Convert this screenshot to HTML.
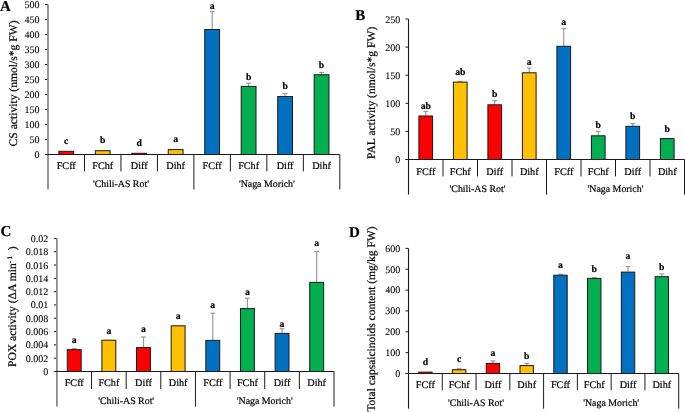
<!DOCTYPE html><html><head><meta charset="utf-8"><style>html,body{margin:0;padding:0;background:#fff;width:685px;height:412px;overflow:hidden}svg{display:block;text-rendering:geometricPrecision;will-change:transform}text{font-family:"Liberation Serif",serif;fill:#000;stroke:#000;stroke-width:0.2px}text.tk{stroke-width:0.08px}</style></head><body>
<svg width="685" height="412" viewBox="0 0 685 412">
<g><text x="0.1" y="10.8" font-size="15" font-weight="bold">A</text><text x="39.4" y="158.0" font-size="10" text-anchor="end" class="tk">0</text><line x1="45.0" y1="154.50" x2="48.0" y2="154.50" stroke="#1a1a1a" stroke-width="1"/><text x="39.4" y="143.0" font-size="10" text-anchor="end" class="tk">50</text><line x1="45.0" y1="139.50" x2="48.0" y2="139.50" stroke="#1a1a1a" stroke-width="1"/><text x="39.4" y="128.0" font-size="10" text-anchor="end" class="tk">100</text><line x1="45.0" y1="124.50" x2="48.0" y2="124.50" stroke="#1a1a1a" stroke-width="1"/><text x="39.4" y="113.0" font-size="10" text-anchor="end" class="tk">150</text><line x1="45.0" y1="109.50" x2="48.0" y2="109.50" stroke="#1a1a1a" stroke-width="1"/><text x="39.4" y="98.0" font-size="10" text-anchor="end" class="tk">200</text><line x1="45.0" y1="94.50" x2="48.0" y2="94.50" stroke="#1a1a1a" stroke-width="1"/><text x="39.4" y="83.0" font-size="10" text-anchor="end" class="tk">250</text><line x1="45.0" y1="79.50" x2="48.0" y2="79.50" stroke="#1a1a1a" stroke-width="1"/><text x="39.4" y="68.0" font-size="10" text-anchor="end" class="tk">300</text><line x1="45.0" y1="64.50" x2="48.0" y2="64.50" stroke="#1a1a1a" stroke-width="1"/><text x="39.4" y="53.0" font-size="10" text-anchor="end" class="tk">350</text><line x1="45.0" y1="49.50" x2="48.0" y2="49.50" stroke="#1a1a1a" stroke-width="1"/><text x="39.4" y="38.0" font-size="10" text-anchor="end" class="tk">400</text><line x1="45.0" y1="34.50" x2="48.0" y2="34.50" stroke="#1a1a1a" stroke-width="1"/><text x="39.4" y="23.0" font-size="10" text-anchor="end" class="tk">450</text><line x1="45.0" y1="19.50" x2="48.0" y2="19.50" stroke="#1a1a1a" stroke-width="1"/><text x="39.4" y="8.0" font-size="10" text-anchor="end" class="tk">500</text><line x1="45.0" y1="4.50" x2="48.0" y2="4.50" stroke="#1a1a1a" stroke-width="1"/><rect x="58.84" y="151.30" width="14.80" height="3.20" fill="#FF0000" stroke="#1a1a1a" stroke-width="1"/><text x="66.24" y="143.60" font-size="9.7" font-weight="bold" text-anchor="middle">c</text><text x="66.24" y="168.80" font-size="10.2" text-anchor="middle">FCff</text><rect x="95.31" y="150.70" width="14.80" height="3.80" fill="#FFC000" stroke="#1a1a1a" stroke-width="1"/><text x="102.71" y="143.30" font-size="9.7" font-weight="bold" text-anchor="middle">b</text><text x="102.71" y="168.80" font-size="10.2" text-anchor="middle">FChf</text><rect x="131.79" y="153.30" width="14.80" height="1.20" fill="#FF0000" stroke="#5a0000" stroke-width="1"/><text x="139.19" y="146.20" font-size="9.7" font-weight="bold" text-anchor="middle">d</text><text x="139.19" y="168.80" font-size="10.2" text-anchor="middle">Diff</text><rect x="168.26" y="149.60" width="14.80" height="4.90" fill="#FFC000" stroke="#1a1a1a" stroke-width="1"/><text x="175.66" y="142.10" font-size="9.7" font-weight="bold" text-anchor="middle">a</text><text x="175.66" y="168.80" font-size="10.2" text-anchor="middle">Dihf</text><line x1="212.14" y1="29.00" x2="212.14" y2="11.50" stroke="#999" stroke-width="1.2"/><line x1="209.74" y1="11.50" x2="214.54" y2="11.50" stroke="#999" stroke-width="1.2"/><rect x="204.74" y="29.50" width="14.80" height="125.00" fill="#0070C0" stroke="#1a1a1a" stroke-width="1"/><text x="212.14" y="8.80" font-size="9.7" font-weight="bold" text-anchor="middle">a</text><text x="212.14" y="168.80" font-size="10.2" text-anchor="middle">FCff</text><line x1="248.61" y1="85.90" x2="248.61" y2="83.20" stroke="#999" stroke-width="1.2"/><line x1="246.21" y1="83.20" x2="251.01" y2="83.20" stroke="#999" stroke-width="1.2"/><rect x="241.21" y="86.40" width="14.80" height="68.10" fill="#00B050" stroke="#1a1a1a" stroke-width="1"/><text x="248.61" y="79.80" font-size="9.7" font-weight="bold" text-anchor="middle">b</text><text x="248.61" y="168.80" font-size="10.2" text-anchor="middle">FChf</text><line x1="285.09" y1="96.00" x2="285.09" y2="93.60" stroke="#999" stroke-width="1.2"/><line x1="282.69" y1="93.60" x2="287.49" y2="93.60" stroke="#999" stroke-width="1.2"/><rect x="277.69" y="96.50" width="14.80" height="58.00" fill="#0070C0" stroke="#1a1a1a" stroke-width="1"/><text x="285.09" y="89.40" font-size="9.7" font-weight="bold" text-anchor="middle">b</text><text x="285.09" y="168.80" font-size="10.2" text-anchor="middle">Diff</text><line x1="321.56" y1="74.25" x2="321.56" y2="72.50" stroke="#999" stroke-width="1.2"/><line x1="319.16" y1="72.50" x2="323.96" y2="72.50" stroke="#999" stroke-width="1.2"/><rect x="314.16" y="74.75" width="14.80" height="79.75" fill="#00B050" stroke="#1a1a1a" stroke-width="1"/><text x="321.56" y="67.80" font-size="9.7" font-weight="bold" text-anchor="middle">b</text><text x="321.56" y="168.80" font-size="10.2" text-anchor="middle">Dihf</text><line x1="48.00" y1="4.50" x2="48.00" y2="189.60" stroke="#8c8c8c" stroke-width="1.8"/><line x1="45.00" y1="154.50" x2="339.80" y2="154.50" stroke="#1a1a1a" stroke-width="1.1"/><line x1="84.47" y1="154.50" x2="84.47" y2="171.40" stroke="#1a1a1a" stroke-width="1"/><line x1="120.95" y1="154.50" x2="120.95" y2="171.40" stroke="#1a1a1a" stroke-width="1"/><line x1="157.43" y1="154.50" x2="157.43" y2="171.40" stroke="#1a1a1a" stroke-width="1"/><line x1="193.90" y1="154.50" x2="193.90" y2="189.60" stroke="#1a1a1a" stroke-width="1"/><line x1="230.38" y1="154.50" x2="230.38" y2="171.40" stroke="#1a1a1a" stroke-width="1"/><line x1="266.85" y1="154.50" x2="266.85" y2="171.40" stroke="#1a1a1a" stroke-width="1"/><line x1="303.33" y1="154.50" x2="303.33" y2="171.40" stroke="#1a1a1a" stroke-width="1"/><line x1="339.80" y1="154.50" x2="339.80" y2="189.60" stroke="#1a1a1a" stroke-width="1"/><text x="120.95" y="187.20" font-size="9.9" text-anchor="middle">'Chili-AS Rot'</text><text x="266.85" y="187.20" font-size="9.9" text-anchor="middle">'Naga Morich'</text><text transform="translate(17.0,146.4) rotate(-90)" font-size="11.6">CS activity (nmol/s*g FW)</text></g>
<g><text x="355.2" y="20.1" font-size="15" font-weight="bold">B</text><text x="400.2" y="163.0" font-size="10" text-anchor="end" class="tk">0</text><line x1="405.5" y1="159.50" x2="408.5" y2="159.50" stroke="#1a1a1a" stroke-width="1"/><text x="400.2" y="135.0" font-size="10" text-anchor="end" class="tk">50</text><line x1="405.5" y1="131.40" x2="408.5" y2="131.40" stroke="#1a1a1a" stroke-width="1"/><text x="400.2" y="107.0" font-size="10" text-anchor="end" class="tk">100</text><line x1="405.5" y1="103.30" x2="408.5" y2="103.30" stroke="#1a1a1a" stroke-width="1"/><text x="400.2" y="79.0" font-size="10" text-anchor="end" class="tk">150</text><line x1="405.5" y1="75.20" x2="408.5" y2="75.20" stroke="#1a1a1a" stroke-width="1"/><text x="400.2" y="51.0" font-size="10" text-anchor="end" class="tk">200</text><line x1="405.5" y1="47.10" x2="408.5" y2="47.10" stroke="#1a1a1a" stroke-width="1"/><text x="400.2" y="23.0" font-size="10" text-anchor="end" class="tk">250</text><line x1="405.5" y1="19.00" x2="408.5" y2="19.00" stroke="#1a1a1a" stroke-width="1"/><line x1="425.75" y1="115.70" x2="425.75" y2="111.40" stroke="#999" stroke-width="1.2"/><line x1="423.35" y1="111.40" x2="428.15" y2="111.40" stroke="#999" stroke-width="1.2"/><rect x="418.90" y="116.00" width="13.70" height="43.50" fill="#FF0000" stroke="#1a1a1a" stroke-width="1"/><text x="425.75" y="108.80" font-size="9.7" font-weight="bold" text-anchor="middle">ab</text><text x="425.75" y="174.50" font-size="10.2" text-anchor="middle">FCff</text><line x1="460.25" y1="81.80" x2="460.25" y2="81.40" stroke="#999" stroke-width="1.2"/><line x1="457.85" y1="81.40" x2="462.65" y2="81.40" stroke="#999" stroke-width="1.2"/><rect x="453.40" y="82.10" width="13.70" height="77.40" fill="#FFC000" stroke="#1a1a1a" stroke-width="1"/><text x="460.25" y="75.00" font-size="9.7" font-weight="bold" text-anchor="middle">ab</text><text x="460.25" y="174.50" font-size="10.2" text-anchor="middle">FChf</text><line x1="494.75" y1="104.50" x2="494.75" y2="100.50" stroke="#999" stroke-width="1.2"/><line x1="492.35" y1="100.50" x2="497.15" y2="100.50" stroke="#999" stroke-width="1.2"/><rect x="487.90" y="104.80" width="13.70" height="54.70" fill="#FF0000" stroke="#1a1a1a" stroke-width="1"/><text x="494.75" y="97.30" font-size="9.7" font-weight="bold" text-anchor="middle">b</text><text x="494.75" y="174.50" font-size="10.2" text-anchor="middle">Diff</text><line x1="529.25" y1="72.50" x2="529.25" y2="68.00" stroke="#999" stroke-width="1.2"/><line x1="526.85" y1="68.00" x2="531.65" y2="68.00" stroke="#999" stroke-width="1.2"/><rect x="522.40" y="72.80" width="13.70" height="86.70" fill="#FFC000" stroke="#1a1a1a" stroke-width="1"/><text x="529.25" y="65.30" font-size="9.7" font-weight="bold" text-anchor="middle">a</text><text x="529.25" y="174.50" font-size="10.2" text-anchor="middle">Dihf</text><line x1="563.75" y1="46.00" x2="563.75" y2="28.60" stroke="#999" stroke-width="1.2"/><line x1="561.35" y1="28.60" x2="566.15" y2="28.60" stroke="#999" stroke-width="1.2"/><rect x="556.90" y="46.30" width="13.70" height="113.20" fill="#0070C0" stroke="#1a1a1a" stroke-width="1"/><text x="563.75" y="25.30" font-size="9.7" font-weight="bold" text-anchor="middle">a</text><text x="563.75" y="174.50" font-size="10.2" text-anchor="middle">FCff</text><line x1="598.25" y1="135.50" x2="598.25" y2="131.50" stroke="#999" stroke-width="1.2"/><line x1="595.85" y1="131.50" x2="600.65" y2="131.50" stroke="#999" stroke-width="1.2"/><rect x="591.40" y="135.80" width="13.70" height="23.70" fill="#00B050" stroke="#1a1a1a" stroke-width="1"/><text x="598.25" y="128.40" font-size="9.7" font-weight="bold" text-anchor="middle">b</text><text x="598.25" y="174.50" font-size="10.2" text-anchor="middle">FChf</text><line x1="632.75" y1="126.00" x2="632.75" y2="123.60" stroke="#999" stroke-width="1.2"/><line x1="630.35" y1="123.60" x2="635.15" y2="123.60" stroke="#999" stroke-width="1.2"/><rect x="625.90" y="126.30" width="13.70" height="33.20" fill="#0070C0" stroke="#1a1a1a" stroke-width="1"/><text x="632.75" y="119.20" font-size="9.7" font-weight="bold" text-anchor="middle">b</text><text x="632.75" y="174.50" font-size="10.2" text-anchor="middle">Diff</text><rect x="660.40" y="138.60" width="13.70" height="20.90" fill="#00B050" stroke="#1a1a1a" stroke-width="1"/><text x="667.25" y="131.50" font-size="9.7" font-weight="bold" text-anchor="middle">b</text><text x="667.25" y="174.50" font-size="10.2" text-anchor="middle">Dihf</text><line x1="408.50" y1="19.00" x2="408.50" y2="194.60" stroke="#1a1a1a" stroke-width="1.1"/><line x1="405.50" y1="159.50" x2="684.50" y2="159.50" stroke="#1a1a1a" stroke-width="1.1"/><line x1="443.00" y1="159.50" x2="443.00" y2="176.40" stroke="#1a1a1a" stroke-width="1"/><line x1="477.50" y1="159.50" x2="477.50" y2="176.40" stroke="#1a1a1a" stroke-width="1"/><line x1="512.00" y1="159.50" x2="512.00" y2="176.40" stroke="#1a1a1a" stroke-width="1"/><line x1="546.50" y1="159.50" x2="546.50" y2="194.60" stroke="#1a1a1a" stroke-width="1"/><line x1="581.00" y1="159.50" x2="581.00" y2="176.40" stroke="#1a1a1a" stroke-width="1"/><line x1="615.50" y1="159.50" x2="615.50" y2="176.40" stroke="#1a1a1a" stroke-width="1"/><line x1="650.00" y1="159.50" x2="650.00" y2="176.40" stroke="#1a1a1a" stroke-width="1"/><line x1="684.50" y1="159.50" x2="684.50" y2="194.60" stroke="#1a1a1a" stroke-width="1"/><text x="477.50" y="192.10" font-size="9.9" text-anchor="middle">'Chili-AS Rot'</text><text x="615.50" y="192.10" font-size="9.9" text-anchor="middle">'Naga Morich'</text><text transform="translate(375.2,158.9) rotate(-90)" font-size="11.6">PAL activity (nmol/s*g FW)</text></g>
<g><text x="0.4" y="236.3" font-size="15" font-weight="bold">C</text><text x="48.3" y="375.0" font-size="10" text-anchor="end" class="tk">0</text><line x1="53.9" y1="371.50" x2="56.9" y2="371.50" stroke="#1a1a1a" stroke-width="1"/><text x="48.3" y="362.0" font-size="10" text-anchor="end" class="tk">0.002</text><line x1="53.9" y1="358.19" x2="56.9" y2="358.19" stroke="#1a1a1a" stroke-width="1"/><text x="48.3" y="348.0" font-size="10" text-anchor="end" class="tk">0.004</text><line x1="53.9" y1="344.88" x2="56.9" y2="344.88" stroke="#1a1a1a" stroke-width="1"/><text x="48.3" y="335.0" font-size="10" text-anchor="end" class="tk">0.006</text><line x1="53.9" y1="331.57" x2="56.9" y2="331.57" stroke="#1a1a1a" stroke-width="1"/><text x="48.3" y="322.0" font-size="10" text-anchor="end" class="tk">0.008</text><line x1="53.9" y1="318.26" x2="56.9" y2="318.26" stroke="#1a1a1a" stroke-width="1"/><text x="48.3" y="308.0" font-size="10" text-anchor="end" class="tk">0.01</text><line x1="53.9" y1="304.95" x2="56.9" y2="304.95" stroke="#1a1a1a" stroke-width="1"/><text x="48.3" y="295.0" font-size="10" text-anchor="end" class="tk">0.012</text><line x1="53.9" y1="291.64" x2="56.9" y2="291.64" stroke="#1a1a1a" stroke-width="1"/><text x="48.3" y="282.0" font-size="10" text-anchor="end" class="tk">0.014</text><line x1="53.9" y1="278.33" x2="56.9" y2="278.33" stroke="#1a1a1a" stroke-width="1"/><text x="48.3" y="269.0" font-size="10" text-anchor="end" class="tk">0.016</text><line x1="53.9" y1="265.02" x2="56.9" y2="265.02" stroke="#1a1a1a" stroke-width="1"/><text x="48.3" y="255.0" font-size="10" text-anchor="end" class="tk">0.018</text><line x1="53.9" y1="251.71" x2="56.9" y2="251.71" stroke="#1a1a1a" stroke-width="1"/><text x="48.3" y="242.0" font-size="10" text-anchor="end" class="tk">0.02</text><line x1="53.9" y1="238.40" x2="56.9" y2="238.40" stroke="#1a1a1a" stroke-width="1"/><line x1="74.22" y1="349.60" x2="74.22" y2="348.50" stroke="#999" stroke-width="1.2"/><line x1="71.82" y1="348.50" x2="76.62" y2="348.50" stroke="#999" stroke-width="1.2"/><rect x="67.27" y="349.60" width="13.90" height="21.90" fill="#FF0000" stroke="#1a1a1a" stroke-width="1"/><text x="74.22" y="342.70" font-size="9.7" font-weight="bold" text-anchor="middle">a</text><text x="74.22" y="386.20" font-size="10.2" text-anchor="middle">FCff</text><rect x="101.91" y="340.20" width="13.90" height="31.30" fill="#FFC000" stroke="#1a1a1a" stroke-width="1"/><text x="108.86" y="333.60" font-size="9.7" font-weight="bold" text-anchor="middle">a</text><text x="108.86" y="386.20" font-size="10.2" text-anchor="middle">FChf</text><line x1="143.49" y1="347.60" x2="143.49" y2="337.00" stroke="#999" stroke-width="1.2"/><line x1="141.09" y1="337.00" x2="145.89" y2="337.00" stroke="#999" stroke-width="1.2"/><rect x="136.54" y="347.60" width="13.90" height="23.90" fill="#FF0000" stroke="#1a1a1a" stroke-width="1"/><text x="143.49" y="331.70" font-size="9.7" font-weight="bold" text-anchor="middle">a</text><text x="143.49" y="386.20" font-size="10.2" text-anchor="middle">Diff</text><rect x="171.18" y="325.80" width="13.90" height="45.70" fill="#FFC000" stroke="#1a1a1a" stroke-width="1"/><text x="178.13" y="319.00" font-size="9.7" font-weight="bold" text-anchor="middle">a</text><text x="178.13" y="386.20" font-size="10.2" text-anchor="middle">Dihf</text><line x1="212.77" y1="340.40" x2="212.77" y2="313.30" stroke="#999" stroke-width="1.2"/><line x1="210.37" y1="313.30" x2="215.17" y2="313.30" stroke="#999" stroke-width="1.2"/><rect x="205.82" y="340.40" width="13.90" height="31.10" fill="#0070C0" stroke="#1a1a1a" stroke-width="1"/><text x="212.77" y="307.50" font-size="9.7" font-weight="bold" text-anchor="middle">a</text><text x="212.77" y="386.20" font-size="10.2" text-anchor="middle">FCff</text><line x1="247.41" y1="308.60" x2="247.41" y2="298.20" stroke="#999" stroke-width="1.2"/><line x1="245.01" y1="298.20" x2="249.81" y2="298.20" stroke="#999" stroke-width="1.2"/><rect x="240.46" y="308.60" width="13.90" height="62.90" fill="#00B050" stroke="#1a1a1a" stroke-width="1"/><text x="247.41" y="295.40" font-size="9.7" font-weight="bold" text-anchor="middle">a</text><text x="247.41" y="386.20" font-size="10.2" text-anchor="middle">FChf</text><line x1="282.04" y1="333.40" x2="282.04" y2="328.80" stroke="#999" stroke-width="1.2"/><line x1="279.64" y1="328.80" x2="284.44" y2="328.80" stroke="#999" stroke-width="1.2"/><rect x="275.09" y="333.40" width="13.90" height="38.10" fill="#0070C0" stroke="#1a1a1a" stroke-width="1"/><text x="282.04" y="326.90" font-size="9.7" font-weight="bold" text-anchor="middle">a</text><text x="282.04" y="386.20" font-size="10.2" text-anchor="middle">Diff</text><line x1="316.68" y1="282.40" x2="316.68" y2="251.40" stroke="#999" stroke-width="1.2"/><line x1="314.28" y1="251.40" x2="319.08" y2="251.40" stroke="#999" stroke-width="1.2"/><rect x="309.73" y="282.40" width="13.90" height="89.10" fill="#00B050" stroke="#1a1a1a" stroke-width="1"/><text x="316.68" y="245.90" font-size="9.7" font-weight="bold" text-anchor="middle">a</text><text x="316.68" y="386.20" font-size="10.2" text-anchor="middle">Dihf</text><line x1="56.90" y1="238.40" x2="56.90" y2="406.60" stroke="#8c8c8c" stroke-width="1.8"/><line x1="53.90" y1="371.50" x2="334.00" y2="371.50" stroke="#1a1a1a" stroke-width="1.1"/><line x1="91.54" y1="371.50" x2="91.54" y2="389.00" stroke="#1a1a1a" stroke-width="1"/><line x1="126.18" y1="371.50" x2="126.18" y2="389.00" stroke="#1a1a1a" stroke-width="1"/><line x1="160.81" y1="371.50" x2="160.81" y2="389.00" stroke="#1a1a1a" stroke-width="1"/><line x1="195.45" y1="371.50" x2="195.45" y2="406.60" stroke="#1a1a1a" stroke-width="1"/><line x1="230.09" y1="371.50" x2="230.09" y2="389.00" stroke="#1a1a1a" stroke-width="1"/><line x1="264.73" y1="371.50" x2="264.73" y2="389.00" stroke="#1a1a1a" stroke-width="1"/><line x1="299.36" y1="371.50" x2="299.36" y2="389.00" stroke="#1a1a1a" stroke-width="1"/><line x1="334.00" y1="371.50" x2="334.00" y2="406.60" stroke="#1a1a1a" stroke-width="1"/><text x="126.18" y="404.20" font-size="9.9" text-anchor="middle">'Chili-AS Rot'</text><text x="264.73" y="404.20" font-size="9.9" text-anchor="middle">'Naga Morich'</text><text transform="translate(16.3,367.0) rotate(-90)" font-size="11.6">POX activity (ΔA min<tspan font-size="7" dy="-4.5">-&#8201;1</tspan><tspan dy="4.5">&#160;&#160;)</tspan></text></g>
<g><text x="349.1" y="237.0" font-size="15" font-weight="bold">D</text><text x="400.2" y="377.0" font-size="10" text-anchor="end" class="tk">0</text><line x1="405.5" y1="373.50" x2="408.5" y2="373.50" stroke="#1a1a1a" stroke-width="1"/><text x="400.2" y="356.0" font-size="10" text-anchor="end" class="tk">100</text><line x1="405.5" y1="352.65" x2="408.5" y2="352.65" stroke="#1a1a1a" stroke-width="1"/><text x="400.2" y="335.0" font-size="10" text-anchor="end" class="tk">200</text><line x1="405.5" y1="331.80" x2="408.5" y2="331.80" stroke="#1a1a1a" stroke-width="1"/><text x="400.2" y="314.0" font-size="10" text-anchor="end" class="tk">300</text><line x1="405.5" y1="310.95" x2="408.5" y2="310.95" stroke="#1a1a1a" stroke-width="1"/><text x="400.2" y="293.0" font-size="10" text-anchor="end" class="tk">400</text><line x1="405.5" y1="290.10" x2="408.5" y2="290.10" stroke="#1a1a1a" stroke-width="1"/><text x="400.2" y="273.0" font-size="10" text-anchor="end" class="tk">500</text><line x1="405.5" y1="269.25" x2="408.5" y2="269.25" stroke="#1a1a1a" stroke-width="1"/><text x="400.2" y="252.0" font-size="10" text-anchor="end" class="tk">600</text><line x1="405.5" y1="248.40" x2="408.5" y2="248.40" stroke="#1a1a1a" stroke-width="1"/><rect x="418.69" y="372.10" width="13.40" height="1.40" fill="#FF0000" stroke="#5a0000" stroke-width="1"/><text x="425.39" y="364.50" font-size="9.7" font-weight="bold" text-anchor="middle">d</text><text x="425.39" y="388.10" font-size="10.2" text-anchor="middle">FCff</text><line x1="459.16" y1="369.40" x2="459.16" y2="368.80" stroke="#999" stroke-width="1.2"/><line x1="456.76" y1="368.80" x2="461.56" y2="368.80" stroke="#999" stroke-width="1.2"/><rect x="452.46" y="369.70" width="13.40" height="3.80" fill="#FFC000" stroke="#1a1a1a" stroke-width="1"/><text x="459.16" y="361.90" font-size="9.7" font-weight="bold" text-anchor="middle">c</text><text x="459.16" y="388.10" font-size="10.2" text-anchor="middle">FChf</text><line x1="492.94" y1="363.10" x2="492.94" y2="360.90" stroke="#999" stroke-width="1.2"/><line x1="490.54" y1="360.90" x2="495.34" y2="360.90" stroke="#999" stroke-width="1.2"/><rect x="486.24" y="363.40" width="13.40" height="10.10" fill="#FF0000" stroke="#1a1a1a" stroke-width="1"/><text x="492.94" y="356.20" font-size="9.7" font-weight="bold" text-anchor="middle">a</text><text x="492.94" y="388.10" font-size="10.2" text-anchor="middle">Diff</text><line x1="526.71" y1="365.30" x2="526.71" y2="363.40" stroke="#999" stroke-width="1.2"/><line x1="524.31" y1="363.40" x2="529.11" y2="363.40" stroke="#999" stroke-width="1.2"/><rect x="520.01" y="365.60" width="13.40" height="7.90" fill="#FFC000" stroke="#1a1a1a" stroke-width="1"/><text x="526.71" y="358.60" font-size="9.7" font-weight="bold" text-anchor="middle">b</text><text x="526.71" y="388.10" font-size="10.2" text-anchor="middle">Dihf</text><line x1="560.49" y1="274.90" x2="560.49" y2="274.30" stroke="#999" stroke-width="1.2"/><line x1="558.09" y1="274.30" x2="562.89" y2="274.30" stroke="#999" stroke-width="1.2"/><rect x="553.79" y="275.20" width="13.40" height="98.30" fill="#0070C0" stroke="#1a1a1a" stroke-width="1"/><text x="560.49" y="268.00" font-size="9.7" font-weight="bold" text-anchor="middle">a</text><text x="560.49" y="388.10" font-size="10.2" text-anchor="middle">FCff</text><line x1="594.26" y1="278.10" x2="594.26" y2="277.70" stroke="#999" stroke-width="1.2"/><line x1="591.86" y1="277.70" x2="596.66" y2="277.70" stroke="#999" stroke-width="1.2"/><rect x="587.56" y="278.40" width="13.40" height="95.10" fill="#00B050" stroke="#1a1a1a" stroke-width="1"/><text x="594.26" y="271.60" font-size="9.7" font-weight="bold" text-anchor="middle">b</text><text x="594.26" y="388.10" font-size="10.2" text-anchor="middle">FChf</text><line x1="628.04" y1="271.80" x2="628.04" y2="266.50" stroke="#999" stroke-width="1.2"/><line x1="625.64" y1="266.50" x2="630.44" y2="266.50" stroke="#999" stroke-width="1.2"/><rect x="621.34" y="272.10" width="13.40" height="101.40" fill="#0070C0" stroke="#1a1a1a" stroke-width="1"/><text x="628.04" y="259.10" font-size="9.7" font-weight="bold" text-anchor="middle">a</text><text x="628.04" y="388.10" font-size="10.2" text-anchor="middle">Diff</text><line x1="661.81" y1="276.40" x2="661.81" y2="273.90" stroke="#999" stroke-width="1.2"/><line x1="659.41" y1="273.90" x2="664.21" y2="273.90" stroke="#999" stroke-width="1.2"/><rect x="655.11" y="276.70" width="13.40" height="96.80" fill="#00B050" stroke="#1a1a1a" stroke-width="1"/><text x="661.81" y="269.90" font-size="9.7" font-weight="bold" text-anchor="middle">b</text><text x="661.81" y="388.10" font-size="10.2" text-anchor="middle">Dihf</text><line x1="408.50" y1="248.40" x2="408.50" y2="408.70" stroke="#1a1a1a" stroke-width="1.1"/><line x1="405.50" y1="373.50" x2="678.70" y2="373.50" stroke="#1a1a1a" stroke-width="1.1"/><line x1="442.27" y1="373.50" x2="442.27" y2="390.20" stroke="#1a1a1a" stroke-width="1"/><line x1="476.05" y1="373.50" x2="476.05" y2="390.20" stroke="#1a1a1a" stroke-width="1"/><line x1="509.83" y1="373.50" x2="509.83" y2="390.20" stroke="#1a1a1a" stroke-width="1"/><line x1="543.60" y1="373.50" x2="543.60" y2="408.70" stroke="#1a1a1a" stroke-width="1"/><line x1="577.38" y1="373.50" x2="577.38" y2="390.20" stroke="#1a1a1a" stroke-width="1"/><line x1="611.15" y1="373.50" x2="611.15" y2="390.20" stroke="#1a1a1a" stroke-width="1"/><line x1="644.93" y1="373.50" x2="644.93" y2="390.20" stroke="#1a1a1a" stroke-width="1"/><line x1="678.70" y1="373.50" x2="678.70" y2="408.70" stroke="#1a1a1a" stroke-width="1"/><text x="476.05" y="406.00" font-size="9.9" text-anchor="middle">'Chili-AS Rot'</text><text x="611.15" y="406.00" font-size="9.9" text-anchor="middle">'Naga Morich'</text><text transform="translate(374.6,411.6) rotate(-90)" font-size="11.5">Total capsaicinoids content (mg/kg FW)</text></g>
</svg></body></html>
